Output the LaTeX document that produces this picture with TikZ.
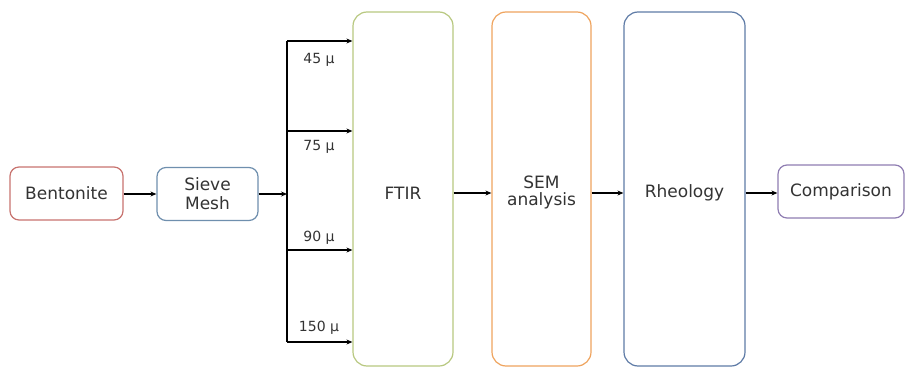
\documentclass[tikz,border=0pt]{standalone}
\usepackage{fontspec}
\setmainfont{DejaVu Sans}
\usetikzlibrary{arrows.meta}
\definecolor{cBent}{HTML}{C8736F}
\definecolor{cSieve}{HTML}{6F8FAE}
\definecolor{cFtir}{HTML}{B8C880}
\definecolor{cSem}{HTML}{EFA45E}
\definecolor{cRheo}{HTML}{5E7BA6}
\definecolor{cComp}{HTML}{8F7DB2}
\definecolor{txt}{HTML}{333333}
\tikzset{
  box/.style={rectangle, rounded corners=9pt, line width=1.2pt, fill=white, text=txt,
    font=\fontsize{17}{19}\selectfont, align=center, inner sep=0pt},
  tall/.style={box, rounded corners=14pt, minimum height=354pt},
  arr/.style={line width=1.6pt, -{Stealth[length=6pt,width=5pt]}},
  bus/.style={line width=1.6pt},
  lbl/.style={text=txt, font=\fontsize{14}{16}\selectfont, inner sep=0pt}
}
\begin{document}
\begin{tikzpicture}[x=1pt,y=-1pt]
\useasboundingbox (0,0) rectangle (907,369);
\node[box, draw=cBent, minimum width=113pt, minimum height=53pt] (bent) at (66.5,193.5) {Bentonite};
\node[box, draw=cSieve, minimum width=101pt, minimum height=53pt] (sieve) at (207.5,194) {Sieve\\Mesh};
\node[tall, draw=cFtir, minimum width=100pt] (ftir) at (403,189) {\raisebox{-4pt}[\height][\depth]{FTIR}};
\node[tall, draw=cSem, minimum width=99pt] (sem) at (541.5,189) {\raisebox{-4pt}[\height][\depth]{\begin{tabular}{@{}c@{}}SEM\\[-2pt]analysis\end{tabular}}};
\node[tall, draw=cRheo, minimum width=121pt] (rheo) at (684.5,189) {\raisebox{-4pt}[\height][\depth]{Rheology}};
\node[box, draw=cComp, minimum width=126pt, minimum height=53pt] (comp) at (841,191.5) {Comparison};
\coordinate (top) at (287,41);
\coordinate (b2) at (287,131);
\coordinate (b3) at (287,250);
\coordinate (bot) at (287,342);
\coordinate (mid) at (287,194);
\draw[bus] (top) -- (bot);
\draw[arr] (bent.east |- 0,194) -- (sieve.west |- 0,194);
\draw[arr] (sieve.east |- mid) -- (mid);
\foreach \c in {top,b2,b3,bot} \draw[arr] (\c) -- (\c -| ftir.west);
\draw[arr] (ftir.east |- 0,193) -- (sem.west |- 0,193);
\draw[arr] (sem.east |- 0,193) -- (rheo.west |- 0,193);
\draw[arr] (rheo.east |- 0,193) -- (comp.west |- 0,193);
\node[lbl] (l45) at (319,60) {45 µ};
\node[lbl] (l75) at (319,147) {75 µ};
\node[lbl] (l90) at (319,238) {90 µ};
\node[lbl] (l150) at (319,328) {150 µ};
\end{tikzpicture}
\end{document}
